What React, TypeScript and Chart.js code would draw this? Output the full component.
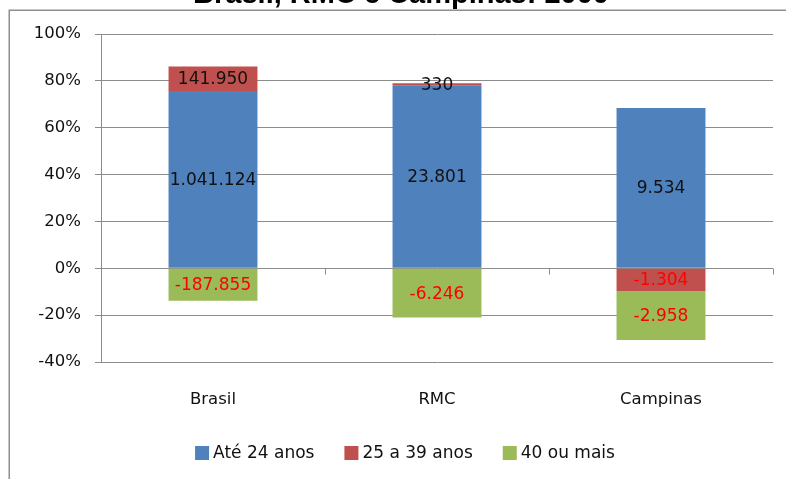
import React, { useEffect, useRef } from 'react';
import { Chart, registerables } from 'chart.js';

Chart.register(...registerables);

const chartTitle = 'Brasil, RMC e Campinas: 2000';
const categories = ['Brasil', 'RMC', 'Campinas'];
const seriesNames = ['Até 24 anos', '25 a 39 anos', '40 ou mais'];
const seriesColors = ['#4F81BD', '#C0504D', '#9BBB59'];

// bar heights in percent
const ate24Pct = [75.7, 77.9, 68.4];
const de25a39Pct = [10.4, 1.1, -9.8];
const mais40Pct = [-13.9, -21.0, -20.8];

// absolute values printed in the bars
const ate24Labels = ['1.041.124', '23.801', '9.534'];
const de25a39Labels = ['141.950', '330', '-1.304'];
const mais40Labels = ['-187.855', '-6.246', '-2.958'];

const yMin = -40;
const yMax = 100;
const yStep = 20;

const FONT = '"DejaVu Sans", sans-serif';
const GRID = '#8c8c8c';

const decorPlugin = {
  id: 'decor',
  beforeDraw(chart: any) {
    const ctx = chart.ctx;
    ctx.save();
    ctx.fillStyle = '#ffffff';
    ctx.fillRect(0, 0, chart.width, chart.height);
    ctx.strokeStyle = '#8e8e8e';
    ctx.lineWidth = 1.5;
    ctx.beginPath();
    ctx.moveTo(9.25, chart.height);
    ctx.lineTo(9.25, 10.25);
    ctx.lineTo(chart.width, 10.25);
    ctx.stroke();
    ctx.restore();
  },
  afterDraw(chart: any) {
    const ctx = chart.ctx;
    const xs = chart.scales.x;
    const ys = chart.scales.y;
    ctx.save();
    // tick marks on the zero line at category boundaries
    const y0 = Math.round(ys.getPixelForValue(0)) + 0.5;
    const n = categories.length;
    ctx.strokeStyle = GRID;
    ctx.lineWidth = 1;
    ctx.beginPath();
    for (let i = 0; i <= n; i++) {
      const x = Math.round(xs.left + (i * (xs.right - xs.left)) / n) + 0.5;
      ctx.moveTo(x, y0);
      ctx.lineTo(x, y0 + 6);
    }
    ctx.stroke();

    // title (mostly cropped at top)
    ctx.fillStyle = '#000000';
    ctx.font = 'bold 29px "Liberation Sans", Arial, sans-serif';
    ctx.textAlign = 'center';
    ctx.textBaseline = 'alphabetic';
    ctx.fillText(chartTitle, 401, 3);

    // legend
    ctx.font = '17px ' + FONT;
    ctx.textBaseline = 'middle';
    ctx.textAlign = 'left';
    const box = 14;
    const gapText = 4;
    const gapItem = 30;
    const widths = seriesNames.map((s) => box + gapText + ctx.measureText(s).width);
    const total = widths.reduce((a, b) => a + b, 0) + gapItem * (widths.length - 1);
    let lx = 405 - total / 2;
    const ly = 453;
    seriesNames.forEach((s, i) => {
      ctx.fillStyle = seriesColors[i];
      ctx.fillRect(lx, ly - box / 2, box, box);
      ctx.fillStyle = '#111111';
      ctx.fillText(s, lx + box + gapText, ly + 1);
      lx += widths[i] + gapItem;
    });
    ctx.restore();
  },
  afterDatasetsDraw(chart: any) {
    const ctx = chart.ctx;
    const labelSets = [ate24Labels, de25a39Labels, mais40Labels];
    ctx.save();
    ctx.font = '17px ' + FONT;
    ctx.textAlign = 'center';
    ctx.textBaseline = 'middle';
    chart.data.datasets.forEach((ds: any, di: number) => {
      const meta = chart.getDatasetMeta(di);
      meta.data.forEach((el: any, i: number) => {
        const p = el.getProps(['x', 'y', 'base'], true);
        const txt = labelSets[di][i];
        ctx.fillStyle = txt.startsWith('-') ? '#FF0000' : '#111111';
        ctx.fillText(txt, p.x, (p.y + p.base) / 2 + 1);
      });
    });
    ctx.restore();
  },
};

export default function App() {
  const canvasRef = useRef<HTMLCanvasElement | null>(null);

  useEffect(() => {
    if (!canvasRef.current) return;
    const chart = new Chart(canvasRef.current, {
      type: 'bar',
      data: {
        labels: categories,
        datasets: [
          { label: seriesNames[0], data: ate24Pct, backgroundColor: seriesColors[0] },
          { label: seriesNames[1], data: de25a39Pct, backgroundColor: seriesColors[1] },
          { label: seriesNames[2], data: mais40Pct, backgroundColor: seriesColors[2] },
        ],
      },
      options: {
        animation: false,
        responsive: true,
        maintainAspectRatio: false,
        devicePixelRatio: 1,
        datasets: {
          bar: { categoryPercentage: 1, barPercentage: 0.397 },
        },
        layout: { padding: { left: 0, right: 13, top: 34, bottom: 67 } },
        plugins: {
          legend: { display: false },
          title: { display: false },
          tooltip: { enabled: false },
        },
        scales: {
          x: {
            stacked: true,
            grid: { display: false },
            border: { display: false },
            ticks: { color: '#111111', font: { family: FONT, size: 16.5 }, padding: 20 },
            afterFit: (scale: any) => {
              scale.height = 50;
            },
          },
          y: {
            stacked: true,
            min: yMin,
            max: yMax,
            grid: { color: GRID, lineWidth: 1, tickLength: 6, drawTicks: true },
            border: { display: true, color: GRID, width: 1 },
            ticks: {
              stepSize: yStep,
              color: '#111111',
              font: { family: FONT, size: 16.5 },
              padding: 14,
              callback: (v: any) => v + '%',
            },
            afterFit: (scale: any) => {
              scale.width = 101;
            },
          },
        },
      },
      plugins: [decorPlugin],
    });
    return () => chart.destroy();
  }, []);

  return (
    <div style={{ position: 'absolute', left: 0, top: 0, width: 786, height: 479, background: '#fff' }}>
      <canvas ref={canvasRef} />
    </div>
  );
}
